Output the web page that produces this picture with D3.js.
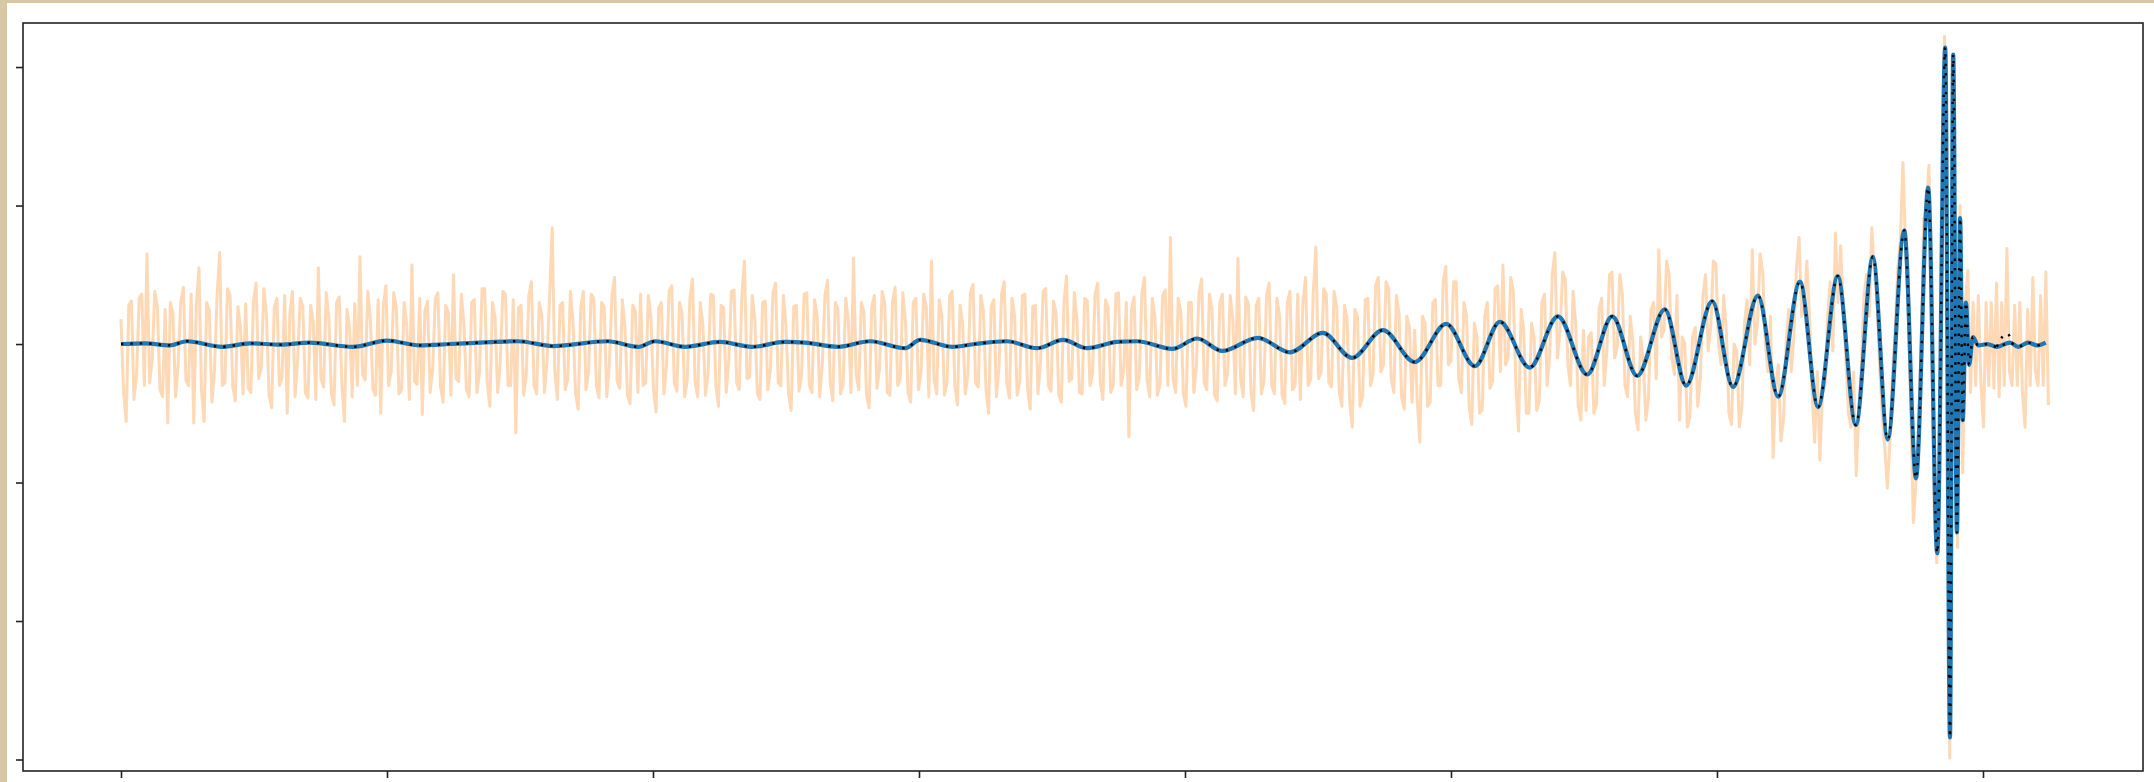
<!DOCTYPE html>
<html>
<head>
<meta charset="utf-8">
<script src="https://cdn.jsdelivr.net/npm/d3@7"></script>
<style>
  body { margin: 0; background: #d7c7a3; }
  svg { display: block; }
</style>
</head>
<body>
<div id="chart"></div>
<script>
// strain (units of 1e-21) vs time (s)
const xTicks = [0, 0.05, 0.1, 0.15, 0.2, 0.25, 0.3, 0.35];
const yTicks = [-3, -2, -1, 0, 1, 2];

// observed data (noisy), sampled at a fixed rate from t = 0
const sampleRate = 2048;
const observed = [
  0.18, -0.35, -0.56, 0.28, 0.31, -0.40, -0.22, 0.33, 0.36, -0.30, 0.65, -0.28, -0.12, 0.38, 0.27, -0.33, -0.38, 0.25, -0.57, 0.30,
  0.22, -0.38, -0.15, 0.30, 0.41, -0.26, -0.30, 0.36, -0.57, 0.28, 0.55, -0.34, -0.56, 0.30, 0.24, -0.42, -0.19, 0.35, 0.66, -0.30,
  -0.28, 0.40, 0.35, -0.30, -0.41, 0.27, 0.12, -0.36, 0.29, -0.32, -0.35, 0.31, 0.44, -0.25, -0.17, 0.40, 0.21, -0.37, -0.46, 0.26,
  0.33, -0.30, -0.24, 0.35, -0.50, 0.22, 0.38, -0.38, -0.12, 0.33, 0.27, -0.35, -0.39, 0.28, 0.16, -0.40, 0.55, -0.25, -0.31, 0.37,
  0.20, -0.36, -0.44, 0.30, 0.34, -0.28, -0.56, 0.25, 0.11, -0.38, 0.29, -0.30, 0.63, -0.22, -0.26, 0.38, 0.18, -0.33, -0.37, 0.32,
  -0.50, 0.28, 0.42, -0.30, -0.20, 0.37, 0.26, -0.36, -0.33, 0.30, 0.14, -0.40, 0.57, -0.27, -0.29, 0.33, -0.51, 0.24, 0.31, -0.35,
  -0.18, 0.33, 0.37, -0.30, -0.42, 0.28, 0.23, -0.37, 0.50, -0.25, -0.27, 0.36, 0.15, -0.33, -0.38, 0.30, 0.32, -0.35, -0.21, 0.40,
  0.40, -0.28, -0.45, 0.30, 0.19, -0.35, -0.14, 0.38, 0.36, -0.30, -0.30, 0.32, -0.64, 0.26, 0.28, -0.37, -0.23, 0.35, 0.45, -0.30,
  -0.36, 0.30, 0.21, -0.35, -0.12, 0.35, 0.84, -0.20, -0.40, 0.28, 0.30, -0.33, -0.25, 0.38, 0.16, -0.36, -0.47, 0.27, 0.38, -0.33,
  -0.20, 0.36, 0.33, -0.30, -0.39, 0.30, 0.27, -0.38, -0.15, 0.35, 0.48, -0.27, -0.32, 0.32, 0.12, -0.37, -0.43, 0.28, 0.24, -0.35,
  0.36, -0.30, -0.28, 0.35, 0.19, -0.33, -0.49, 0.26, 0.30, -0.36, -0.16, 0.38, 0.42, -0.28, -0.34, 0.30, 0.22, -0.38, -0.26, 0.33,
  0.47, -0.27, -0.38, 0.30, 0.14, -0.37, -0.21, 0.36, 0.35, -0.30, -0.45, 0.28, 0.26, -0.35, -0.11, 0.38, 0.39, -0.28, -0.33, 0.34,
  0.60, -0.25, -0.24, 0.35, 0.18, -0.36, -0.40, 0.30, 0.31, -0.33, -0.19, 0.37, 0.44, -0.28, -0.30, 0.35, 0.13, -0.36, -0.48, 0.27,
  0.28, -0.34, -0.22, 0.36, 0.37, -0.30, -0.35, 0.32, 0.20, -0.38, -0.14, 0.35, 0.46, -0.27, -0.41, 0.30, 0.25, -0.36, -0.29, 0.33,
  0.17, -0.35, 0.62, -0.22, -0.33, 0.30, 0.23, -0.37, -0.46, 0.27, 0.35, -0.32, -0.18, 0.38, 0.29, -0.35, -0.37, 0.30, 0.41, -0.30,
  -0.25, 0.37, 0.16, -0.35, -0.42, 0.30, 0.33, -0.33, -0.20, 0.36, 0.27, -0.38, 0.60, -0.25, -0.36, 0.32, 0.21, -0.37, -0.28, 0.35,
  0.38, -0.30, -0.44, 0.28, 0.15, -0.36, -0.23, 0.37, 0.43, -0.28, -0.31, 0.35, 0.24, -0.33, -0.50, 0.27, 0.32, -0.38, -0.17, 0.36,
  0.45, -0.28, -0.39, 0.33, 0.20, -0.37, -0.27, 0.35, 0.36, -0.32, -0.47, 0.27, 0.28, -0.36, -0.13, 0.38, 0.40, -0.30, -0.34, 0.31,
  0.22, -0.36, -0.42, 0.30, 0.49, -0.27, -0.25, 0.37, 0.17, -0.35, -0.36, 0.33, 0.31, -0.30, -0.21, 0.36, 0.44, -0.28, -0.40, 0.32,
  0.26, -0.35, -0.30, 0.36, 0.37, -0.30, -0.19, 0.30, -0.67, 0.25, 0.34, -0.33, -0.24, 0.37, 0.48, -0.26, -0.38, 0.33, 0.20, -0.37,
  -0.29, 0.35, 0.39, -0.30, 0.77, -0.25, -0.35, 0.33, 0.23, -0.36, -0.45, 0.30, 0.30, -0.35, -0.16, 0.37, 0.47, -0.28, -0.33, 0.36,
  0.25, -0.37, -0.41, 0.30, 0.36, -0.30, -0.22, 0.35, 0.18, -0.36, 0.62, -0.25, -0.38, 0.34, 0.29, -0.35, -0.48, 0.28, 0.33, -0.36,
  -0.27, 0.35, 0.44, -0.30, -0.36, 0.33, 0.21, -0.37, -0.43, 0.30, 0.38, -0.33, -0.30, 0.36, -0.40, 0.30, 0.48, -0.30, -0.25, 0.38,
  0.70, -0.25, -0.20, 0.40, 0.36, -0.28, -0.31, 0.38, 0.27, -0.35, -0.45, 0.28, 0.18, -0.42, -0.60, 0.25, 0.20, -0.45, -0.38, 0.32,
  0.33, -0.30, -0.22, 0.42, 0.48, -0.20, -0.15, 0.45, 0.40, -0.25, -0.35, 0.35, 0.22, -0.38, -0.47, 0.20, 0.12, -0.42, 0.10, -0.40,
  -0.71, 0.20, 0.15, -0.45, -0.42, 0.30, 0.32, -0.30, -0.30, 0.45, 0.56, -0.15, -0.12, 0.45, 0.45, -0.25, -0.35, 0.30, 0.20, -0.45,
  -0.58, 0.15, 0.05, -0.50, -0.48, 0.20, 0.30, -0.32, -0.27, 0.40, 0.42, -0.20, 0.57, -0.15, -0.10, 0.48, 0.38, -0.30, -0.63, 0.25,
  0.10, -0.50, -0.50, 0.15, 0.05, -0.48, -0.41, 0.30, 0.36, -0.30, -0.08, 0.50, 0.66, -0.10, 0.10, 0.52, 0.47, -0.15, -0.30, 0.38,
  0.15, -0.45, -0.55, 0.10, -0.48, 0.05, 0.08, -0.50, -0.44, 0.25, 0.33, -0.30, -0.05, 0.50, 0.52, -0.10, -0.02, 0.50, 0.35, -0.30,
  -0.38, 0.20, 0.02, -0.50, -0.62, 0.05, -0.10, -0.55, -0.40, 0.25, 0.30, -0.25, 0.68, 0.05, 0.10, 0.60, 0.50, -0.10, -0.22, 0.35,
  -0.55, 0.05, 0.00, -0.60, -0.52, 0.05, 0.12, -0.45, -0.25, 0.35, 0.50, -0.05, 0.12, 0.60, 0.58, 0.00, -0.15, 0.35, 0.10, -0.50,
  -0.58, 0.00, -0.05, -0.60, -0.45, 0.15, 0.32, -0.15, 0.68, 0.00, 0.15, 0.65, 0.52, 0.00, -0.20, 0.20, -0.82, -0.30, -0.15, -0.70,
  -0.55, 0.00, 0.25, -0.20, 0.05, 0.55, 0.77, 0.20, 0.25, 0.60, 0.20, -0.35, -0.71, -0.20, -0.84, -0.35, -0.30, 0.20, 0.45, -0.05,
  0.80, 0.30, 0.71, 0.25, -0.10, -0.50, -0.60, -0.20, -0.95, -0.50, -0.15, 0.35, 0.50, 0.20, 0.84, 0.50, 0.35, -0.15, -0.50, -0.75,
  -1.04, -0.70, -0.20, 0.10, 0.55, 0.75, 1.31, 0.70, 0.30, -0.50, -1.29, -1.00, -0.60, 0.00, 0.90, 1.00, 1.29, 0.40, -1.20, -1.58,
  -0.70, 0.60, 2.22, 0.20, -2.99, 1.70, 0.30, -1.47, 1.00, -0.93, 0.30, 0.53, -0.35, 0.30, -0.30, 0.35, -0.28, -0.60, 0.30, -0.30,
  0.30, -0.32, 0.44, -0.38, 0.30, -0.30, 0.69, -0.20, -0.30, 0.28, -0.30, 0.30, -0.35, -0.60, 0.25, -0.30, 0.48, -0.20, -0.30, 0.35,
  -0.30, 0.52, -0.44
];

// whitened signal: turning points
const signalTime = [
  0, 0.0045, 0.0092, 0.0124, 0.0190, 0.0242, 0.0299, 0.0355, 0.0436, 0.0500,
  0.0562, 0.0618, 0.0675, 0.0746, 0.0812, 0.0915, 0.0972, 0.1004, 0.1060, 0.1126,
  0.1186, 0.1248, 0.1286, 0.1348, 0.1408, 0.1474, 0.1502, 0.1562, 0.1605, 0.1665,
  0.1722, 0.1771, 0.1816, 0.1872, 0.1910, 0.1976, 0.2023, 0.2070, 0.2137, 0.2197,
  0.2259, 0.2314, 0.2372, 0.2432, 0.2491, 0.2545, 0.2592, 0.2648, 0.2701, 0.2756,
  0.2803, 0.2850, 0.2902, 0.2942, 0.2991, 0.3030, 0.3077, 0.3115, 0.3156, 0.3190,
  0.3227, 0.3261, 0.3293, 0.3321, 0.3352, 0.3374, 0.3397, 0.3414, 0.3429, 0.3438,
  0.3444, 0.3451, 0.3457, 0.3462, 0.3468, 0.3474, 0.3481, 0.3491, 0.3508, 0.3526,
  0.3551, 0.3566, 0.3585, 0.3602, 0.3618
];
const signalValue = [
  0.00, 0.005, -0.01, 0.02, -0.02, 0.005, -0.005, 0.01, -0.02, 0.025,
  -0.01, 0.00, 0.01, 0.02, -0.015, 0.02, -0.02, 0.02, -0.02, 0.015,
  -0.02, 0.015, 0.01, -0.02, 0.02, -0.03, 0.03, -0.02, 0.00, 0.02,
  -0.03, 0.03, -0.03, 0.015, 0.02, -0.035, 0.04, -0.05, 0.045, -0.06,
  0.08, -0.10, 0.10, -0.13, 0.145, -0.16, 0.16, -0.17, 0.20, -0.22,
  0.20, -0.23, 0.25, -0.30, 0.31, -0.31, 0.35, -0.38, 0.45, -0.455,
  0.49, -0.585, 0.63, -0.69, 0.82, -0.97, 1.13, -1.51, 2.14, -2.84,
  2.09, -1.36, 0.91, -0.55, 0.30, -0.15, 0.05, -0.01, 0.00, -0.02,
  0.01, -0.02, 0.01, -0.01, 0.01
];

// short stretch where the template departs from the signal
const templateBumpTime = [0.3526, 0.3537, 0.3546, 0.3555];
const templateBumpValue = [-0.02, 0.055, 0.075, 0.00];

const W = 2154, H = 782;
const margin = { top: 23, right: 11, bottom: 11, left: 23 };

const svg = d3.select("#chart").append("svg").attr("width", W).attr("height", H);

// paper border and white figure
svg.append("rect").attr("width", W).attr("height", H).attr("fill", "#d7c7a3");
svg.append("rect").attr("x", 7).attr("y", 3).attr("width", W - 7).attr("height", H - 3).attr("fill", "#fff");

const x = d3.scaleLinear().domain([-0.01842, 0.38008]).range([margin.left, W - margin.right]);
const y = d3.scaleLinear().domain([-3.083, 2.318]).range([H - margin.bottom, margin.top]);

svg.append("clipPath").attr("id", "clip")
  .append("rect")
  .attr("x", margin.left).attr("y", margin.top)
  .attr("width", W - margin.left - margin.right)
  .attr("height", H - margin.top - margin.bottom);

const plot = svg.append("g").attr("clip-path", "url(#clip)");

const obsLine = d3.line().x((d, i) => x(i / sampleRate)).y(d => y(d));
plot.append("path")
  .datum(observed)
  .attr("d", obsLine)
  .attr("fill", "none")
  .attr("stroke", "#ff7f0e")
  .attr("stroke-opacity", 0.3)
  .attr("stroke-width", 3)
  .attr("stroke-linejoin", "round");

const sigLine = d3.line().curve(d3.curveMonotoneX).x(d => x(d[0])).y(d => y(d[1]));
const signal = signalTime.map((t, i) => [t, signalValue[i]]);
const bump = templateBumpTime.map((t, i) => [t, templateBumpValue[i]]);

plot.append("path")
  .datum(signal)
  .attr("d", sigLine)
  .attr("fill", "none")
  .attr("stroke", "#1f77b4")
  .attr("stroke-width", 4.2);

plot.append("path")
  .datum(signal)
  .attr("d", sigLine)
  .attr("fill", "none")
  .attr("stroke", "#000")
  .attr("stroke-width", 2.4)
  .attr("stroke-dasharray", "2.4,7");

plot.append("path")
  .datum(bump)
  .attr("d", sigLine)
  .attr("fill", "none")
  .attr("stroke", "#000")
  .attr("stroke-width", 2.4)
  .attr("stroke-dasharray", "2.4,7");

// axes (tick labels fall outside the cropped figure)
svg.append("g")
  .attr("transform", `translate(0,${H - margin.bottom})`)
  .call(d3.axisBottom(x).tickValues(xTicks).tickSize(7).tickFormat(""))
  .call(g => g.select(".domain").remove())
  .call(g => g.selectAll("line").attr("stroke", "#222").attr("stroke-width", 1.6));

svg.append("g")
  .attr("transform", `translate(${margin.left},0)`)
  .call(d3.axisLeft(y).tickValues(yTicks).tickSize(7).tickFormat(""))
  .call(g => g.select(".domain").remove())
  .call(g => g.selectAll("line").attr("stroke", "#222").attr("stroke-width", 1.6));

svg.append("rect")
  .attr("x", margin.left).attr("y", margin.top)
  .attr("width", W - margin.left - margin.right)
  .attr("height", H - margin.top - margin.bottom)
  .attr("fill", "none")
  .attr("stroke", "#222")
  .attr("stroke-width", 1.6);
</script>
</body>
</html>
